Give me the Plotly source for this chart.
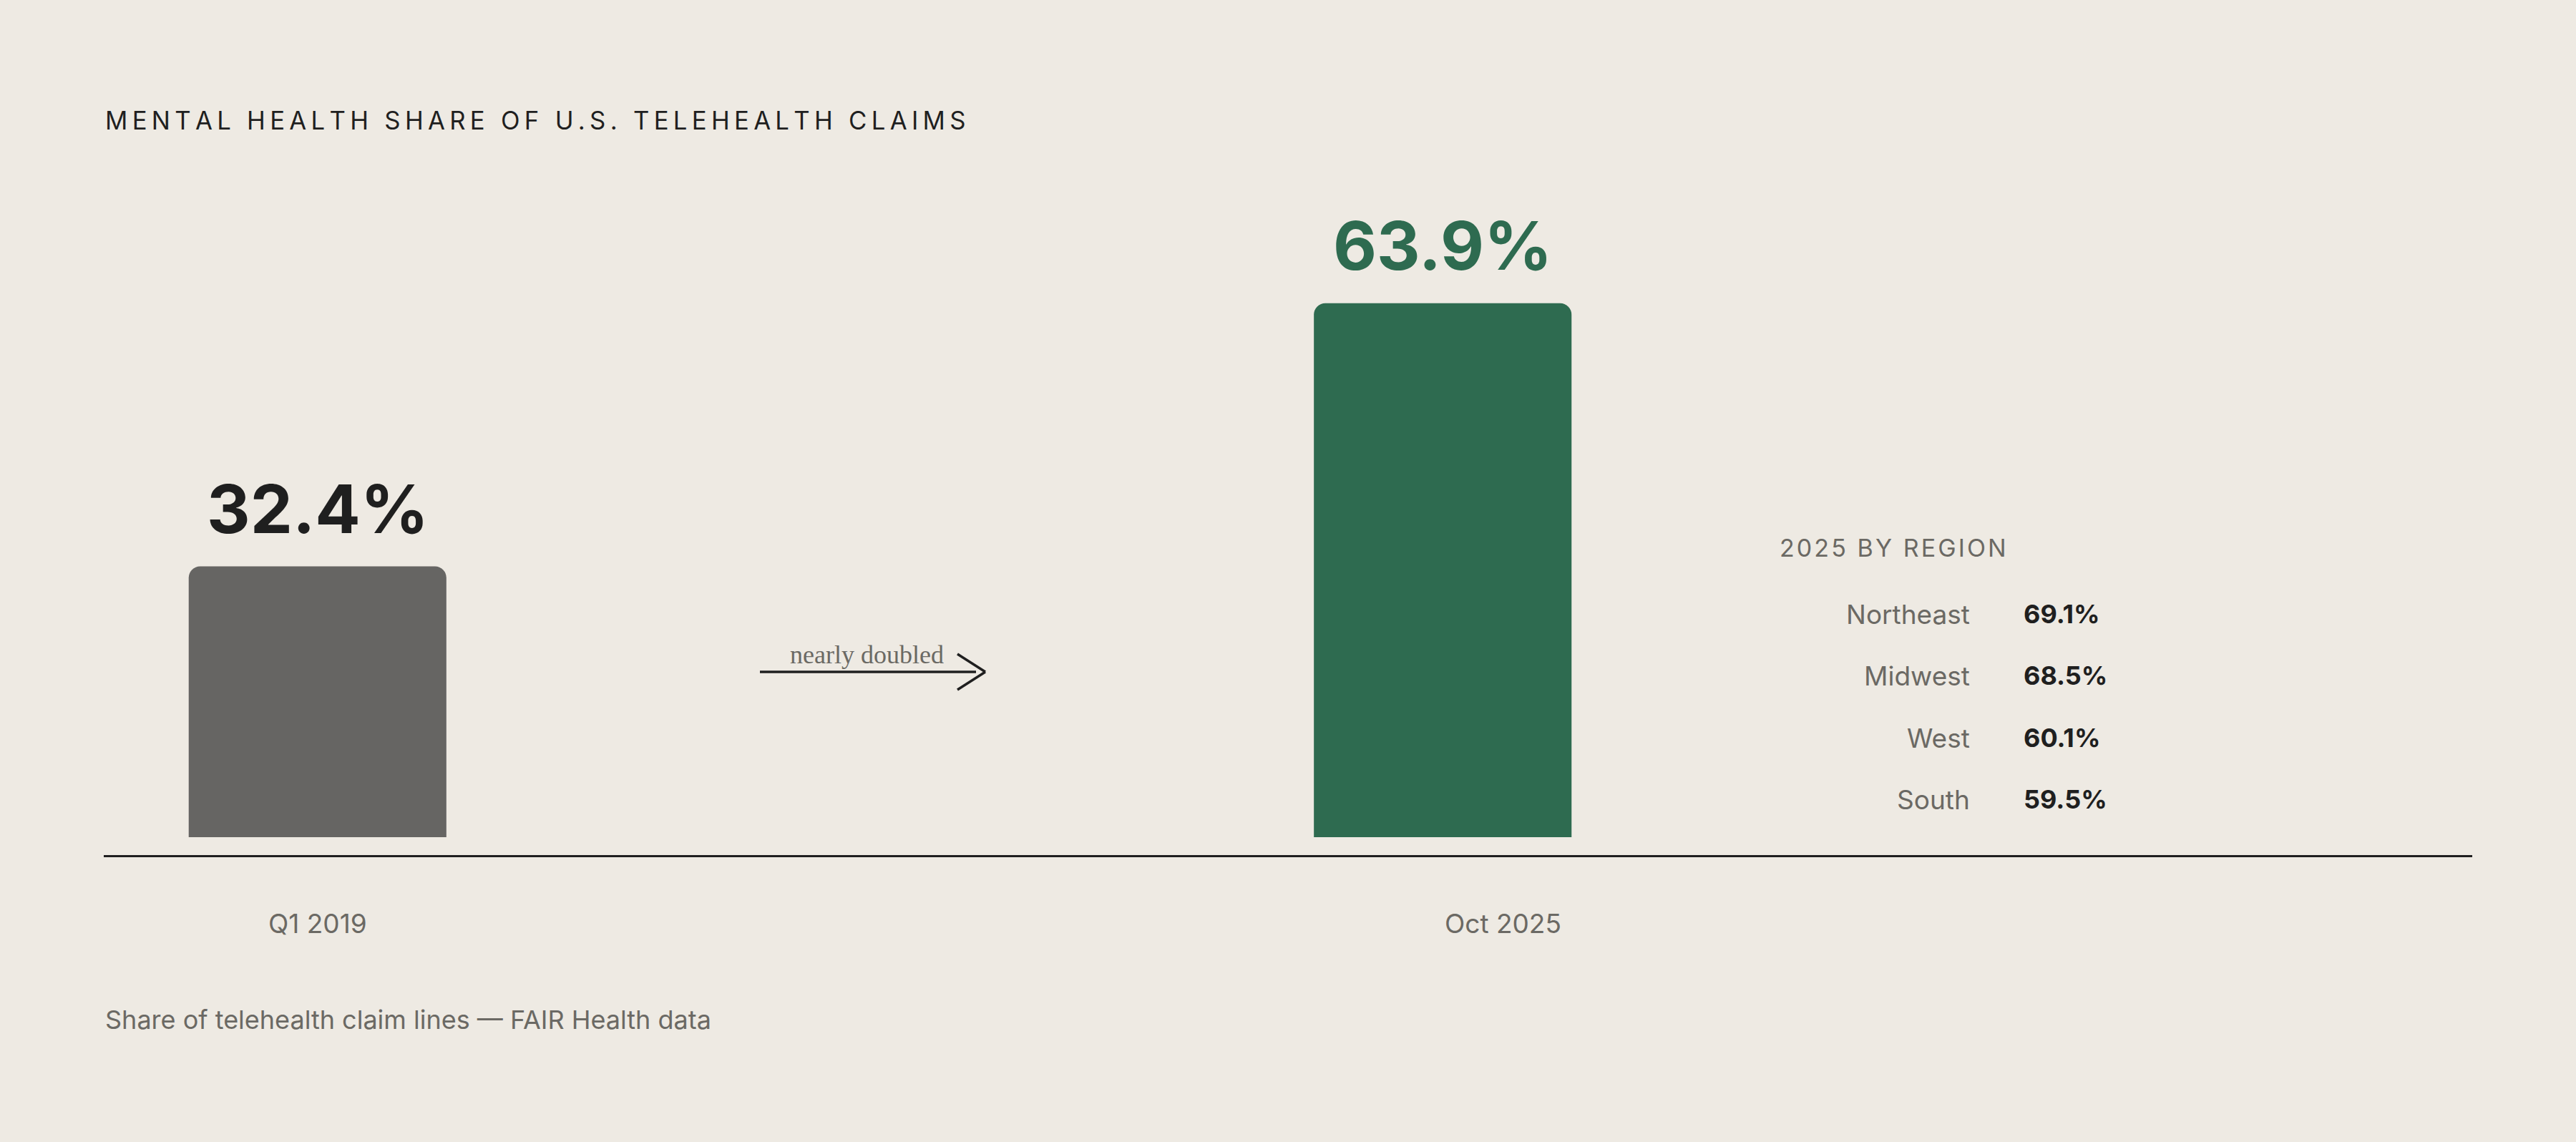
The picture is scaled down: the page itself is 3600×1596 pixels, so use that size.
import plotly.graph_objects as go

# ---- data ----
periods = ["Q1 2019", "Oct 2025"]
shares = [32.4, 63.9]
share_labels = ["32.4%", "63.9%"]
regions = ["Northeast", "Midwest", "West", "South"]
region_shares = [69.1, 68.5, 60.1, 59.5]

title_text = "MENTAL HEALTH SHARE OF U.S. TELEHEALTH CLAIMS"
region_title = "2025 BY REGION"
note_text = "nearly doubled"
footnote = "Share of telehealth claim lines \u2014 FAIR Health data"

# ---- style / layout constants ----
W, H = 3600, 1596
L, R, T, B = 145, 145, 236, 401
PW, PH = W - L - R, H - T - B
BG = "#eeeae3"
DARK = "#1f1f1f"
GRAY = "#6b6964"
GREEN = "#2e6b50"
BAR_COLORS = ["#666563", GREEN]
LABEL_COLORS = [DARK, GREEN]
SANS = "Inter, 'DM Sans', Lato, sans-serif"
SERIF = "'Liberation Serif', 'Times New Roman', serif"


def px(x):
    return (x - L) / PW


def py(y):
    return (H - B - y) / PH


def spaced(s, sep="\u2009"):
    return sep.join(list(s))


fig = go.Figure()
fig.add_trace(go.Bar(
    x=periods, y=shares, width=0.229,
    marker=dict(color=BAR_COLORS, line=dict(width=0)),
    hoverinfo="skip",
))

ann = []
# value labels above bars
for p, v, lab, c in zip(periods, shares, share_labels, LABEL_COLORS):
    ann.append(dict(x=p, y=v, xref="x", yref="y", text="<b>%s</b>" % lab,
                    showarrow=False, yanchor="bottom", yshift=22,
                    font=dict(family=SANS, size=94, color=c)))
# category labels
for p, shift in zip(periods, [0, 84]):
    ann.append(dict(x=p, y=py(1290), xref="x", yref="paper", text=p,
                    showarrow=False, xshift=shift, yanchor="middle",
                    font=dict(family=SANS, size=37, color=GRAY)))
# title
ann.append(dict(x=px(145), y=py(168), xref="paper", yref="paper",
                text=spaced(title_text), showarrow=False, xanchor="left",
                yanchor="middle", font=dict(family=SANS, size=34.7, color=DARK)))
# footnote
ann.append(dict(x=px(145), y=py(1425), xref="paper", yref="paper",
                text=footnote, showarrow=False, xanchor="left",
                yanchor="middle", font=dict(family=SANS, size=36, color=GRAY)))
# arrow note
ann.append(dict(x=px(1211), y=py(915), xref="paper", yref="paper",
                text=note_text, showarrow=False, xanchor="center",
                yanchor="middle", font=dict(family=SERIF, size=36, color=GRAY)))
# region panel
ann.append(dict(x=px(2485), y=py(765), xref="paper", yref="paper",
                text=spaced(region_title, "\u200a"), showarrow=False, xanchor="left",
                yanchor="middle", font=dict(family=SANS, size=34, color=GRAY)))
row_y = [858, 944, 1031, 1117]
for name, val, yy in zip(regions, region_shares, row_y):
    ann.append(dict(x=px(2755), y=py(yy), xref="paper", yref="paper",
                    text=name, showarrow=False, xanchor="right", yanchor="middle",
                    font=dict(family=SANS, size=37, color=GRAY)))
    ann.append(dict(x=px(2826), y=py(yy), xref="paper", yref="paper",
                    text="<b>%.1f%%</b>" % val, showarrow=False, xanchor="left",
                    yanchor="middle", font=dict(family=SANS, size=36, color=DARK)))

shapes = [
    dict(type="line", xref="paper", yref="paper", x0=px(1062), x1=px(1364),
         y0=py(939), y1=py(939), line=dict(color=DARK, width=3.5)),
    dict(type="line", xref="paper", yref="paper", x0=px(1338), x1=px(1377),
         y0=py(914), y1=py(939), line=dict(color=DARK, width=3.5)),
    dict(type="line", xref="paper", yref="paper", x0=px(1338), x1=px(1377),
         y0=py(964), y1=py(939), line=dict(color=DARK, width=3.5)),
]

fig.update_layout(
    width=W, height=H,
    margin=dict(l=L, r=R, t=T, b=B, pad=0),
    paper_bgcolor=BG, plot_bgcolor=BG,
    showlegend=False,
    barcornerradius=16,
    annotations=ann, shapes=shapes,
    xaxis=dict(type="category", range=[-0.190, 1.915], showgrid=False,
               zeroline=False, showticklabels=False, ticks="",
               showline=True, linecolor=DARK, linewidth=3, fixedrange=True),
    yaxis=dict(range=[-2.14, 79.97], visible=False, showgrid=False,
               zeroline=False, fixedrange=True),
    font=dict(family=SANS),
)

fig.write_html("out.html", config={"displayModeBar": False},
               post_script="document.body.style.margin='0';")
